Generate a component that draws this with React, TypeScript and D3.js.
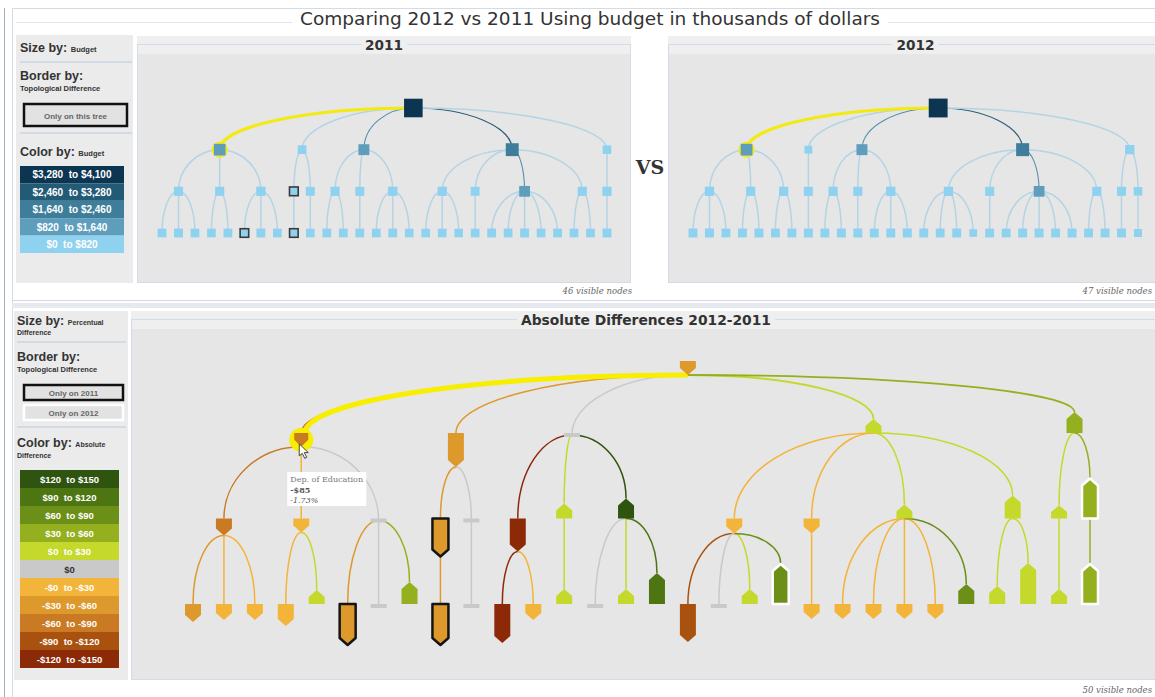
import React from "react";
import * as d3 from "d3";

type TRow = [string, number, number]; // id, budget (k$), only on this tree
type DRow = [string, number, number, number]; // id, abs diff (k$), percent diff, flag (1 only 2011, 2 only 2012)

const tree2011: TRow[] = [
  ["r", 3950, 0],
  ["r.a", 1480, 0],
  ["r.a.1", 610, 0], ["r.a.1.1", 460, 0], ["r.a.1.2", 520, 0], ["r.a.1.3", 430, 0],
  ["r.a.2", 560, 0], ["r.a.2.1", 410, 0], ["r.a.2.2", 450, 0],
  ["r.a.3", 630, 0], ["r.a.3.1", 380, 1], ["r.a.3.2", 470, 0], ["r.a.3.3", 430, 0],
  ["r.b", 430, 0],
  ["r.b.1", 440, 1], ["r.b.1.1", 380, 1],
  ["r.b.2", 510, 0], ["r.b.2.1", 410, 0],
  ["r.c", 1210, 0],
  ["r.c.1", 590, 0], ["r.c.1.1", 440, 0], ["r.c.1.2", 420, 0],
  ["r.c.2", 530, 0], ["r.c.2.1", 450, 0],
  ["r.c.3", 660, 0], ["r.c.3.1", 410, 0], ["r.c.3.2", 440, 0], ["r.c.3.3", 400, 0],
  ["r.d", 1920, 0],
  ["r.d.1", 620, 0], ["r.d.1.1", 400, 0], ["r.d.1.2", 420, 0], ["r.d.1.3", 390, 0],
  ["r.d.2", 490, 0], ["r.d.2.1", 430, 0],
  ["r.d.3", 1160, 0], ["r.d.3.1", 470, 0], ["r.d.3.2", 450, 0], ["r.d.3.3", 510, 0], ["r.d.3.4", 430, 0], ["r.d.3.5", 460, 0],
  ["r.d.4", 570, 0], ["r.d.4.1", 420, 0], ["r.d.4.2", 410, 0],
  ["r.e", 390, 0], ["r.e.1", 600, 0], ["r.e.1.1", 510, 0],
];

const tree2012: TRow[] = [
  ["r", 4050, 0],
  ["r.a", 1500, 0],
  ["r.a.1", 640, 0], ["r.a.1.1", 520, 0], ["r.a.1.2", 560, 0], ["r.a.1.3", 480, 0],
  ["r.a.2", 600, 0], ["r.a.2.1", 500, 0], ["r.a.2.2", 540, 0],
  ["r.a.3", 620, 0], ["r.a.3.1", 470, 0], ["r.a.3.2", 510, 0],
  ["r.b", 120, 0], ["r.b.1", 560, 0], ["r.b.1.1", 520, 0],
  ["r.c", 1230, 0],
  ["r.c.1", 600, 0], ["r.c.1.1", 500, 0], ["r.c.1.2", 530, 0],
  ["r.c.2", 580, 0], ["r.c.2.1", 520, 0],
  ["r.c.3", 650, 0], ["r.c.3.1", 490, 0], ["r.c.3.2", 520, 0], ["r.c.3.3", 560, 0],
  ["r.d", 1950, 0],
  ["r.d.1", 640, 0], ["r.d.1.1", 500, 0], ["r.d.1.2", 470, 0], ["r.d.1.3", 520, 0], ["r.d.1.4", 60, 0],
  ["r.d.2", 560, 0], ["r.d.2.1", 500, 0],
  ["r.d.3", 1150, 0], ["r.d.3.1", 480, 0], ["r.d.3.2", 510, 0], ["r.d.3.3", 530, 0], ["r.d.3.4", 500, 0], ["r.d.3.5", 520, 0],
  ["r.d.4", 600, 0], ["r.d.4.1", 490, 0], ["r.d.4.2", 510, 0],
  ["r.e", 640, 0],
  ["r.e.1", 560, 0], ["r.e.1.1", 520, 0],
  ["r.e.2", 380, 0], ["r.e.2.1", 200, 0],
];

const diffTree: DRow[] = [
  ["r", -45, -2, 0],
  ["r.a", -85, -1.73, 0],
  ["r.a.1", -70, -5, 0], ["r.a.1.1", -35, -6, 0], ["r.a.1.2", -18, -4, 0], ["r.a.1.3", -22, -4, 0],
  ["r.a.2", -15, -2, 0], ["r.a.2.1", -25, -10, 0], ["r.a.2.2", 12, 2, 0],
  ["r.a.3", 0, 0, 0], ["r.a.3.1", -50, -29, 1], ["r.a.3.2", 0, 0, 0], ["r.a.3.3", 40, 10, 0],
  ["r.b", -40, -22, 0],
  ["r.b.1", -45, -26, 1], ["r.b.1.1", -50, -29, 1],
  ["r.b.2", 0, 0, 0], ["r.b.2.1", 0, 0, 0],
  ["r.c", 0, 0, 0],
  ["r.c.1", -135, -21, 0], ["r.c.1.1", -140, -27, 0], ["r.c.1.2", -10, -4, 0],
  ["r.c.2", 15, 3, 0], ["r.c.2.1", 10, 3, 0],
  ["r.c.3", 130, 8, 0], ["r.c.3.1", 0, 0, 0], ["r.c.3.2", 14, 3, 0], ["r.c.3.3", 105, 19, 0],
  ["r.d", 20, 2, 0],
  ["r.d.1", -20, -3, 0], ["r.d.1.1", -105, -26, 0], ["r.d.1.2", 0, 0, 0], ["r.d.1.3", 16, 3, 0], ["r.d.1.4", 75, 28, 2],
  ["r.d.2", -12, -3, 0], ["r.d.2.1", -14, -3, 0],
  ["r.d.3", 18, 2, 0], ["r.d.3.1", -10, -3, 0], ["r.d.3.2", -12, -3, 0], ["r.d.3.3", -8, -3, 0], ["r.d.3.4", -11, -3, 0], ["r.d.3.5", 70, 8, 0],
  ["r.d.4", 22, 11, 0], ["r.d.4.1", 10, 6, 0], ["r.d.4.2", 25, 29, 0],
  ["r.e", 45, 9, 0],
  ["r.e.1", 8, 1, 0], ["r.e.1.1", 6, 3, 0],
  ["r.e.2", 50, 28, 2], ["r.e.2.1", 55, 28, 2],
];

const budgetLabels = ["$3,280  to $4,100", "$2,460  to $3,280", "$1,640  to $2,460", "$820  to $1,640", "$0  to $820"];
const budgetThresholds = [820, 1640, 2460, 3280];
const budgetColors = ["#8fd2f0", "#5e9dbb", "#3e7e9b", "#235b77", "#0b3551"];

const diffLabels = ["$120  to $150", "$90  to $120", "$60  to $90", "$30  to $60", "$0  to $30", "$0", "-$0  to -$30", "-$30  to -$60", "-$60  to -$90", "-$90  to -$120", "-$120  to -$150"];
const diffThresholds = [30, 60, 90, 120];
const posColors = ["#c4d92b", "#94b01f", "#6b8f17", "#4d7613", "#2f5410"];
const negColors = ["#f3b43a", "#de992d", "#c97a22", "#a9520f", "#8c2a08"];
const zeroColor = "#c9c9c9";

const tooltipLines = ["Dep. of Education", "-$85", "-1.73%"];

const SANS = "'Liberation Sans', Arial, sans-serif";
const COND = "'DejaVu Sans Condensed', 'Liberation Sans Narrow', 'DejaVu Sans', sans-serif";
const SERIF = "'DejaVu Serif', 'Liberation Serif', serif";

const budgetColor = d3.scaleThreshold<number, string>().domain(budgetThresholds).range(budgetColors);
const posScale = d3.scaleThreshold<number, string>().domain(diffThresholds).range(posColors);
const negScale = d3.scaleThreshold<number, string>().domain(diffThresholds).range(negColors);
const diffColor = (v: number) => (v === 0 ? zeroColor : v > 0 ? posScale(v) : negScale(-v));
const legendDiffColors = [...posColors].reverse().concat([zeroColor], negColors);

function layout<T extends any[]>(rows: T[], x0: number, x1: number) {
  const root = d3
    .stratify<T>()
    .id((d) => d[0])
    .parentId((d) => {
      const s = d[0] as string;
      const i = s.lastIndexOf(".");
      return i < 0 ? null : s.slice(0, i);
    })(rows);
  const xs = d3.scalePoint<string>().domain(root.leaves().map((l) => l.id as string)).range([x0, x1]);
  root.eachAfter((n: any) => {
    n.x = n.children ? (n.children[0].x + n.children[n.children.length - 1].x) / 2 : xs(n.id);
  });
  return root as any;
}

function arc(x1: number, y1: number, x2: number, y2: number) {
  const rx = Math.abs(x2 - x1);
  const ry = Math.abs(y2 - y1);
  if (rx < 0.5) return `M${x1},${y1}L${x2},${y2}`;
  return `M${x1},${y1}A${rx},${ry} 0 0,${x2 > x1 ? 1 : 0} ${x2},${y2}`;
}

const topY = d3.scaleLinear().domain([0, 3]).range([108, 233]);
const sizeScale = d3.scaleLinear().domain([0, 4100]).range([7.5, 19]);

function edgeStyle(budget: number) {
  const c = budgetColor(budget);
  if (budget < budgetThresholds[0]) return { stroke: "#b4d4e4", w: 1.5 };
  if (budget < budgetThresholds[1]) return { stroke: (d3.color(c) as any).darker(0.25).toString(), w: 1.1 };
  return { stroke: (d3.color(c) as any).darker(0.8).toString(), w: 1.2 };
}

function TopTree({ rows, x0, x1 }: { rows: TRow[]; x0: number; x1: number }) {
  const root = layout(rows, x0, x1);
  const nodes = root.descendants();
  const links = nodes.filter((n: any) => n.parent);
  const hl = nodes.find((n: any) => n.id === "r.a");
  return (
    <g>
      {links.map((n: any) => {
        const s = edgeStyle(n.data[1]);
        return (
          <path key={"l" + n.id} d={arc(n.parent.x, topY(n.parent.depth), n.x, topY(n.depth))} fill="none"
            stroke={s.stroke} strokeWidth={s.w} />
        );
      })}
      <path d={arc(root.x, topY(0), hl.x, topY(1))} fill="none" stroke="#f3ea12" strokeWidth={3} />
      <circle cx={hl.x} cy={topY(1)} r={8} fill="#f3ea12" />
      {nodes.map((n: any) => {
        const s = sizeScale(n.data[1]);
        return (
          <rect key={n.id} x={n.x - s / 2} y={topY(n.depth) - s / 2} width={s} height={s}
            fill={budgetColor(n.data[1])} stroke={n.data[2] ? "#3a3a3a" : "none"} strokeWidth={1.6} />
        );
      })}
    </g>
  );
}

const diffY = d3.scaleLinear().domain([0, 1, 3]).range([361, 433, 604]);
const hScale = d3.scaleLinear().domain([0, 30]).range([12, 42]);

function shapePath(x: number, base: number, h: number, w: number, neg: boolean) {
  const hw = w / 2;
  const p = Math.min(7, h * 0.5);
  if (neg) return `M${x - hw},${base}L${x + hw},${base}L${x + hw},${base + h - p}L${x},${base + h}L${x - hw},${base + h - p}Z`;
  return `M${x - hw},${base}L${x - hw},${base - h + p}L${x},${base - h}L${x + hw},${base - h + p}L${x + hw},${base}Z`;
}

function DiffTree() {
  const root = layout(diffTree, 193, 1090);
  const nodes = root.descendants();
  const hOf = (n: any) => hScale(Math.abs(n.data[2]));
  const bottomAnchor = (n: any) => {
    const b = diffY(n.depth);
    return n.data[1] < 0 ? b + hOf(n) : n.data[1] > 0 ? b : b + 2;
  };
  const topAnchor = (n: any) => {
    const b = diffY(n.depth);
    return n.data[1] < 0 ? b : n.data[1] > 0 ? b - hOf(n) : b + 2;
  };
  const hl = nodes.find((n: any) => n.id === "r.a");
  const hlY = diffY(1) + hOf(hl) / 2;
  const tx = hl.x - 14;
  const ty = diffY(1) + 39;
  return (
    <g>
      {nodes.filter((n: any) => n.parent).map((n: any) => (
        <path key={"l" + n.id} d={arc(n.parent.x, bottomAnchor(n.parent), n.x, topAnchor(n))} fill="none"
          stroke={diffColor(n.data[1])} strokeWidth={n.depth === 1 && n.data[1] > 0 ? 1.8 : 1.5} />
      ))}
      <path d={arc(root.x, bottomAnchor(root), hl.x + 4, topAnchor(hl))} fill="none" stroke="#f7ee00" strokeWidth={5} />
      <circle cx={hl.x} cy={hlY} r={12} fill="#f7ee00" />
      {nodes.map((n: any) => {
        const b = diffY(n.depth);
        if (n.data[1] === 0) return <rect key={n.id} x={n.x - 8} y={b} width={16} height={4} fill={zeroColor} />;
        const flag = n.data[3];
        return (
          <path key={n.id} d={shapePath(n.x, b, hOf(n), n.id === "r.a" ? 14 : 16, n.data[1] < 0)} fill={diffColor(n.data[1])}
            stroke={flag === 1 ? "#151515" : flag === 2 ? "#ffffff" : "none"} strokeWidth={2.5} strokeLinejoin="round" />
        );
      })}
      <g transform={`translate(${tx},${ty})`}>
        <rect x={0} y={0} width={79} height={34} fill="#ffffff" />
        <text x={3} y={10} fontFamily={SERIF} fontSize={8} fill="#777">{tooltipLines[0]}</text>
        <text x={3} y={21} fontFamily={SERIF} fontSize={8} fontWeight="bold" fill="#555">{tooltipLines[1]}</text>
        <text x={3} y={31} fontFamily={SERIF} fontSize={8} fontStyle="italic" fill="#555">{tooltipLines[2]}</text>
      </g>
      <path transform={`translate(${hl.x - 2},${hlY + 4})`} d="M0,0L0,12L3,9.5L5.5,14.5L7.5,13.5L5,8.7L9,8.7Z" fill="#fff" stroke="#333" strokeWidth={0.9} />
    </g>
  );
}

function Legend1() {
  return (
    <g fontFamily={SANS} fill="#333">
      <rect x={16} y={35} width={117} height={248} fill="#ebebeb" />
      <text x={20} y={52} fontSize={12.5} fontWeight="bold">Size by: <tspan fontSize={7.5}>Budget</tspan></text>
      <line x1={20} x2={132} y1={62} y2={62} stroke="#b9c9dd" />
      <text x={20} y={80} fontSize={12.5} fontWeight="bold">Border by:</text>
      <text x={20} y={91} fontSize={7.5} fontWeight="bold">Topological Difference</text>
      <rect x={24} y={104} width={103} height={22} fill="#e2e2e2" stroke="#111" strokeWidth={2.5} />
      <text x={75.5} y={118.5} textAnchor="middle" fontSize={8} fontWeight="bold" fill="#666">Only on this tree</text>
      <line x1={20} x2={132} y1={133} y2={133} stroke="#b9c9dd" />
      <text x={20} y={156} fontSize={12.5} fontWeight="bold">Color by: <tspan fontSize={7.5}>Budget</tspan></text>
      {budgetLabels.map((t, i) => (
        <g key={t}>
          <rect x={20} y={166 + i * 17.4} width={104} height={17.4} fill={budgetColors[budgetColors.length - 1 - i]} />
          <text x={72} y={166 + i * 17.4 + 12.3} textAnchor="middle" fontSize={10} fontWeight="bold" fill="#fff" style={{ whiteSpace: "pre" }}>{t}</text>
        </g>
      ))}
    </g>
  );
}

function Legend2() {
  return (
    <g fontFamily={SANS} fill="#333">
      <rect x={14} y={311} width={114} height={369} fill="#ebebeb" />
      <text x={17} y={325} fontSize={12.5} fontWeight="bold">Size by: <tspan fontSize={7}>Percentual</tspan></text>
      <text x={17} y={335} fontSize={7} fontWeight="bold">Difference</text>
      <line x1={17} x2={126} y1={342} y2={342} stroke="#b9c9dd" />
      <text x={17} y={361} fontSize={12.5} fontWeight="bold">Border by:</text>
      <text x={17} y={372} fontSize={7.5} fontWeight="bold">Topological Difference</text>
      <rect x={24} y={385} width={99} height={15} fill="#e2e2e2" stroke="#111" strokeWidth={2.5} />
      <text x={73.5} y={395.5} textAnchor="middle" fontSize={8} fontWeight="bold" fill="#666">Only on 2011</text>
      <rect x={24} y={405} width={99} height={15} fill="#e2e2e2" stroke="#fff" strokeWidth={2.5} />
      <text x={73.5} y={415.5} textAnchor="middle" fontSize={8} fontWeight="bold" fill="#666">Only on 2012</text>
      <line x1={17} x2={126} y1={427} y2={427} stroke="#b9c9dd" />
      <text x={17} y={447} fontSize={12.5} fontWeight="bold">Color by: <tspan fontSize={7}>Absolute</tspan></text>
      <text x={17} y={458} fontSize={7} fontWeight="bold">Difference</text>
      {diffLabels.map((t, i) => (
        <g key={t}>
          <rect x={20} y={470 + i * 18} width={99} height={18} fill={legendDiffColors[i]} />
          <text x={69.5} y={470 + i * 18 + 12.5} textAnchor="middle" fontSize={9.5} fontWeight="bold"
            fill={t === "$0" ? "#333" : "#fff"} style={{ whiteSpace: "pre" }}>{t}</text>
        </g>
      ))}
    </g>
  );
}

function Panel({ x, y, w, h, title, titleSize, titleW }: any) {
  return (
    <g>
      <rect x={x} y={y} width={w} height={18} fill="#efefef" />
      <rect x={x} y={y + 18} width={w} height={h - 18} fill="#e6e6e6" />
      <rect x={x + 0.5} y={y + 8.5} width={w - 1} height={h - 9} fill="none" stroke="#d2dbe7" />
      <rect x={x + w / 2 - titleW / 2 - 4} y={y + 2} width={titleW + 8} height={14} fill="#efefef" />
      <text x={x + w / 2} y={y + 14} textAnchor="middle" fontFamily={COND} fontWeight="bold" fontSize={titleSize} fill="#333"
        textLength={titleW} lengthAdjust="spacingAndGlyphs">{title}</text>
    </g>
  );
}

export default function App() {
  return (
    <svg width={1155} height={697} style={{ position: "absolute", left: 0, top: 0, background: "#fff" }}>
      <rect width={1155} height={697} fill="#fff" />
      <line x1={4.5} x2={4.5} y1={8} y2={697} stroke="#a9b0b8" />
      <line x1={12.5} x2={12.5} y1={8} y2={697} stroke="#d3dbe5" />
      <line x1={12} x2={1155} y1={8.5} y2={8.5} stroke="#d3dbe5" />
      <line x1={16} x2={292} y1={22.5} y2={22.5} stroke="#e0e6ee" />
      <line x1={888} x2={1155} y1={22.5} y2={22.5} stroke="#e0e6ee" />
      <text x={300} y={25} fontFamily={COND} fontSize={17} fill="#333" textLength={580} lengthAdjust="spacingAndGlyphs">
        Comparing 2012 vs 2011 Using budget in thousands of dollars
      </text>
      <Legend1 />
      <Panel x={137} y={36} w={494} h={247} title="2011" titleSize={14} titleW={38} />
      <Panel x={668} y={36} w={495} h={247} title="2012" titleSize={14} titleW={38} />
      <TopTree rows={tree2011} x0={162} x1={607} />
      <TopTree rows={tree2012} x0={693} x1={1138} />
      <text x={650} y={174} textAnchor="middle" fontFamily={SERIF} fontWeight="bold" fontSize={19} fill="#333">VS</text>
      <text x={632} y={294} textAnchor="end" fontFamily={SERIF} fontStyle="italic" fontSize={8.5} fill="#666">46 visible nodes</text>
      <text x={1152} y={294} textAnchor="end" fontFamily={SERIF} fontStyle="italic" fontSize={8.5} fill="#666">47 visible nodes</text>
      <line x1={12} x2={1155} y1={300.5} y2={300.5} stroke="#cfd8e3" />
      <rect x={12} y={303} width={1143} height={5} fill="#e6eaef" />
      <Legend2 />
      <Panel x={131} y={311} w={1030} h={369} title="Absolute Differences 2012-2011" titleSize={14.5} titleW={250} />
      <DiffTree />
      <text x={1152} y={693} textAnchor="end" fontFamily={SERIF} fontStyle="italic" fontSize={8.5} fill="#666">50 visible nodes</text>
    </svg>
  );
}
